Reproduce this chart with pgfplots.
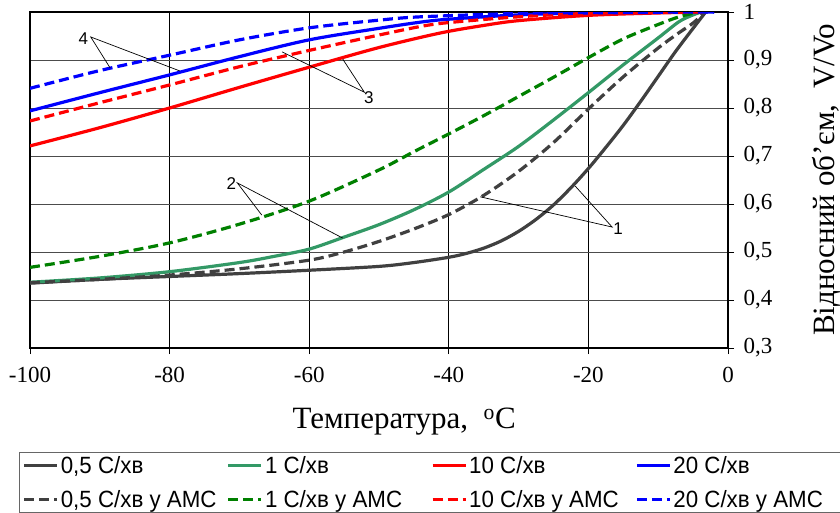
\documentclass[border=0pt]{standalone}
\usepackage{fontspec}
\setmainfont{Liberation Serif}
\newfontfamily\arial{Liberation Sans}
\newfontfamily\arialn[FakeStretch=0.95]{Liberation Sans}
\usepackage{pgfplots}
\pgfplotsset{compat=1.18}

\definecolor{cblack}{HTML}{404040}
\definecolor{cgreen}{HTML}{339966}
\definecolor{cgreenA}{HTML}{008000}

% curves: temperature (C), relative volume V/Vo
\pgfplotstableread{
t v
-100 0.435
-90 0.443
-80 0.449
-70 0.455
-60 0.462
-50 0.470
-45 0.478
-40 0.489
-37.5 0.497
-35 0.508
-32.5 0.523
-30 0.543
-27.5 0.568
-25 0.598
-22.5 0.634
-20 0.674
-17.5 0.718
-15 0.764
-12.5 0.814
-10 0.866
-7.5 0.918
-5 0.966
-3.2 1.0
}\sblack
\pgfplotstableread{
t v
-100 0.436
-90 0.443
-80 0.452
-70 0.465
-60 0.483
-55 0.500
-50 0.522
-45 0.548
-40 0.578
-35 0.618
-30 0.668
-25 0.728
-20 0.798
-15 0.865
-10 0.925
-7 0.957
-5 0.977
-3.3 1.0
}\dblack
\pgfplotstableread{
t v
-100 0.437
-90 0.446
-80 0.459
-70 0.478
-65 0.491
-60 0.506
-55 0.531
-50 0.557
-45 0.588
-40 0.625
-35 0.672
-30 0.720
-25 0.775
-20 0.832
-15 0.890
-10 0.946
-7 0.980
-5 0.994
-3.8 1.0
}\sgreen
\pgfplotstableread{
t v
-100 0.468
-90 0.491
-80 0.519
-70 0.558
-60 0.606
-50 0.671
-45 0.709
-40 0.746
-35 0.784
-30 0.824
-25 0.864
-20 0.905
-15 0.944
-10 0.974
-7 0.990
-4.2 1.0
}\dgreen
\pgfplotstableread{
t v
-100 0.721
-90 0.759
-80 0.800
-70 0.843
-60 0.885
-50 0.926
-41.3 0.956
-35 0.972
-30 0.982
-20 0.993
-10 0.998
-3 1.0
}\sred
\pgfplotstableread{
t v
-100 0.773
-90 0.811
-80 0.848
-70 0.886
-60 0.920
-50 0.952
-44 0.970
-40 0.978
-30 0.990
-20 0.997
-3 1.0
}\dred
\pgfplotstableread{
t v
-100 0.794
-90 0.832
-80 0.869
-70 0.907
-60 0.942
-50 0.966
-44 0.979
-40 0.985
-30 0.994
-20 0.998
-2 1.0
}\sblue
\pgfplotstableread{
t v
-100 0.841
-90 0.878
-80 0.910
-70 0.942
-60 0.967
-50 0.983
-44 0.990
-30 0.997
-20 0.999
-2 1.0
}\dblue

\begin{document}
\begin{tikzpicture}
\useasboundingbox (-30bp,-165bp) rectangle (810bp,348bp);
\begin{axis}[
    scale only axis,
    width=698bp, height=336bp,
    xmin=-100, xmax=0, ymin=0.3, ymax=1,
    xtick={-100,-80,-60,-40,-20,0},
    xticklabels={-100,-80,-60,-40,-20,0},
    ytick={0.3,0.4,0.5,0.6,0.7,0.8,0.9,1},
    yticklabels={{0,3},{0,4},{0,5},{0,6},{0,7},{0,8},{0,9},1},
    xtick pos=bottom, ytick pos=right, yticklabel pos=right,
    tick align=outside, major tick length=6bp,
    tick style={black, line width=1bp},
    tick label style={font=\rmfamily\fontsize{23bp}{26bp}\selectfont},
    xticklabel style={yshift=-10bp},
    yticklabel style={xshift=6bp},
    axis line style={line width=2.5bp},
    grid=major,
    x grid style={black, line width=0.8bp},
    y grid style={black!70, line width=0.9bp},
    every axis x label/.style={at={(axis description cs:0.536,0)}, anchor=base, yshift=-80bp,
        font=\rmfamily\fontsize{31bp}{36bp}\selectfont},
    every axis y label/.style={at={(axis description cs:1.1520,0.5)}, rotate=90, anchor=base,
        font=\rmfamily\fontsize{31bp}{36bp}\selectfont},
    xlabel={Температура,\ \ \textsuperscript{o}C},
    ylabel={Відносний об'єм,\ \ V/Vo},
    legend columns=4,
    legend cell align=left,
    legend image code/.code={\draw[#1] (0bp,0bp) -- (33bp,0bp);},
    legend style={at={(axis description cs:0.5745,0)}, anchor=north, yshift=-104bp,
        draw=black!60, line width=1bp, row sep=11bp,
        font=\arialn\fontsize{23.5bp}{26bp}\selectfont},
    every axis plot/.append style={line width=3.2bp, smooth},
    dash/.style={dash pattern=on 10bp off 5bp},
]
\addplot[cblack] table {\sblack};
\addlegendentry{\makebox[164bp][l]{0,5 С/хв}}
\addplot[cgreen] table {\sgreen};
\addlegendentry{\makebox[164bp][l]{1 С/хв}}
\addplot[red] table {\sred};
\addlegendentry{\makebox[164bp][l]{10 С/хв}}
\addplot[blue] table {\sblue};
\addlegendentry{\makebox[164bp][l]{20 С/хв}}
\addplot[cblack, dash] table {\dblack};
\addlegendentry{\makebox[164bp][l]{0,5 С/хв у АМС}}
\addplot[cgreenA, dash] table {\dgreen};
\addlegendentry{\makebox[164bp][l]{1 С/хв у АМС}}
\addplot[red, dash] table {\dred};
\addlegendentry{\makebox[164bp][l]{10 С/хв у АМС}}
\addplot[blue, dash] table {\dblue};
\addlegendentry{\makebox[164bp][l]{20 С/хв у АМС}}

% leader lines and curve numbers
\draw[black, line width=0.7bp] (axis cs:-88.5,0.883) -- (axis cs:-91.3,0.948) -- (axis cs:-78.5,0.877);
\node[font=\arial\fontsize{17bp}{19bp}\selectfont, anchor=east, inner sep=1bp] at (axis cs:-91.5,0.944) {4};
\draw[black, line width=0.7bp] (axis cs:-63.9,0.917) -- (axis cs:-52.1,0.833) -- (axis cs:-55.2,0.902);
\node[font=\arial\fontsize{17bp}{19bp}\selectfont, anchor=north west, inner sep=1bp] at (axis cs:-52.3,0.837) {3};
\draw[black, line width=0.7bp] (axis cs:-66.8,0.577) -- (axis cs:-70.3,0.644) -- (axis cs:-55.2,0.529);
\node[font=\arial\fontsize{17bp}{19bp}\selectfont, anchor=east, inner sep=1bp] at (axis cs:-70.3,0.642) {2};
\draw[black, line width=0.7bp] (axis cs:-35.5,0.615) -- (axis cs:-16.6,0.552) -- (axis cs:-21.9,0.6375);
\node[font=\arial\fontsize{17bp}{19bp}\selectfont, anchor=west, inner sep=1bp] at (axis cs:-16.6,0.548) {1};
\end{axis}
\end{tikzpicture}
\end{document}
